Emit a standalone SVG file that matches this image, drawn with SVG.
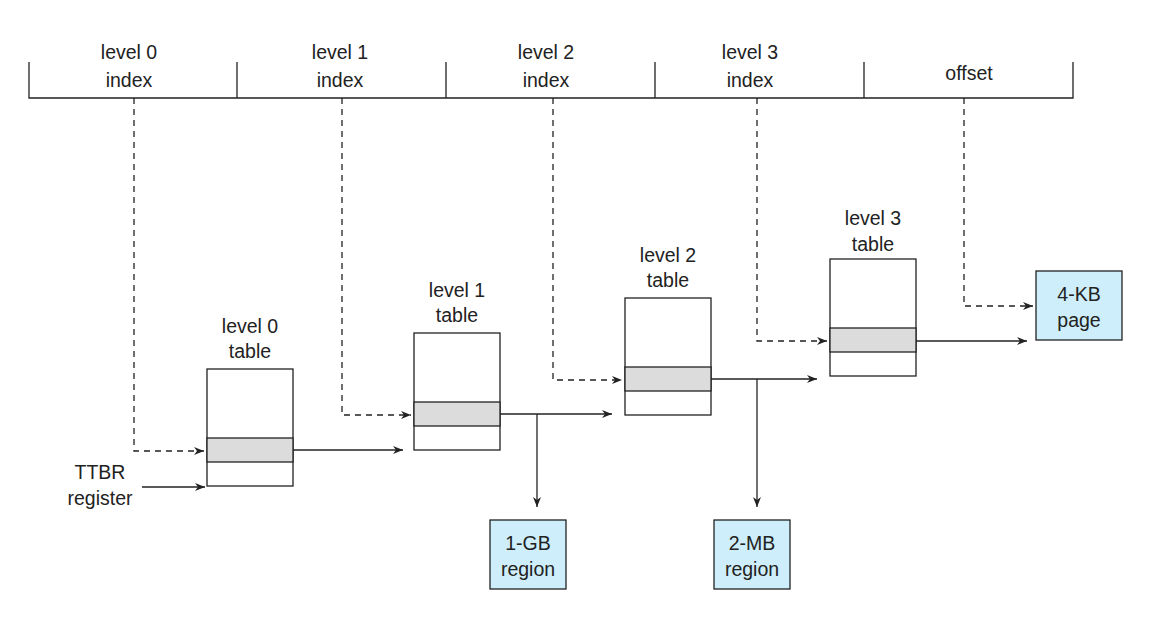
<svg xmlns="http://www.w3.org/2000/svg" width="1151" height="626" viewBox="0 0 1151 626">
<style>
text{font-family:"Liberation Sans",Arial,sans-serif;font-size:19.5px;fill:#222;text-anchor:middle}
.l{stroke:#222;stroke-width:1.3;fill:none}
.d{stroke-dasharray:6,5}
.t{fill:#fff;stroke:#222;stroke-width:1.3}
.g{fill:#dcdcdc;stroke:#222;stroke-width:1.3}
.b{fill:#cdeefa;stroke:#222;stroke-width:1.3}
</style>
<defs><marker id="a" viewBox="0 0 10 8" refX="10" refY="4" markerWidth="10" markerHeight="8" markerUnits="userSpaceOnUse" orient="auto"><path d="M0,0L10,4L0,8L3,4Z" fill="#222"/></marker></defs>
<g id="address">
<path class="l" d="M29,62V98H1073V62M237,62V98M446,62V98M655,62V98M864,62V98"/>
<text x="129" y="59">level 0</text><text x="129" y="87">index</text>
<text x="340" y="59">level 1</text><text x="340" y="87">index</text>
<text x="546" y="59">level 2</text><text x="546" y="87">index</text>
<text x="750" y="59">level 3</text><text x="750" y="87">index</text>
<text x="969" y="80">offset</text>
</g>
<g id="ttbr"><text x="100" y="479">TTBR</text><text x="100" y="505">register</text></g>
<g id="t0"><rect class="t" x="207" y="369" width="86" height="117"/><rect class="g" x="207" y="438" width="86" height="24"/><text x="250" y="333">level 0</text><text x="250" y="358">table</text></g>
<g id="t1"><rect class="t" x="414" y="333" width="86" height="117"/><rect class="g" x="414" y="402" width="86" height="24"/><text x="457" y="297">level 1</text><text x="457" y="322">table</text></g>
<g id="t2"><rect class="t" x="625" y="298" width="86" height="117"/><rect class="g" x="625" y="367" width="86" height="24"/><text x="668" y="262">level 2</text><text x="668" y="287">table</text></g>
<g id="t3"><rect class="t" x="830" y="259" width="86" height="117"/><rect class="g" x="830" y="328" width="86" height="24"/><text x="873" y="225">level 3</text><text x="873" y="251">table</text></g>
<g id="gb"><rect class="b" x="490" y="520" width="76" height="69"/><text x="528" y="550">1-GB</text><text x="528" y="576">region</text></g>
<g id="mb"><rect class="b" x="714" y="520" width="76" height="69"/><text x="752" y="550">2-MB</text><text x="752" y="576">region</text></g>
<g id="kb"><rect class="b" x="1036" y="271" width="86" height="69"/><text x="1079" y="301">4-KB</text><text x="1079" y="327">page</text></g>
<g id="connectors">
<path class="l d" d="M134,98V451H204" marker-end="url(#a)"/>
<path class="l d" d="M342,98V415H411" marker-end="url(#a)"/>
<path class="l d" d="M553,98V380H622" marker-end="url(#a)"/>
<path class="l d" d="M757,98V341H827" marker-end="url(#a)"/>
<path class="l d" d="M964,98V306H1033" marker-end="url(#a)"/>
<path class="l" d="M142,487H205" marker-end="url(#a)"/>
<path class="l" d="M293,450H403" marker-end="url(#a)"/>
<path class="l" d="M500,414H612" marker-end="url(#a)"/>
<path class="l" d="M537,414V507" marker-end="url(#a)"/>
<path class="l" d="M711,379H817" marker-end="url(#a)"/>
<path class="l" d="M757,379V507" marker-end="url(#a)"/>
<path class="l" d="M916,341H1027" marker-end="url(#a)"/>
</g>
</svg>
